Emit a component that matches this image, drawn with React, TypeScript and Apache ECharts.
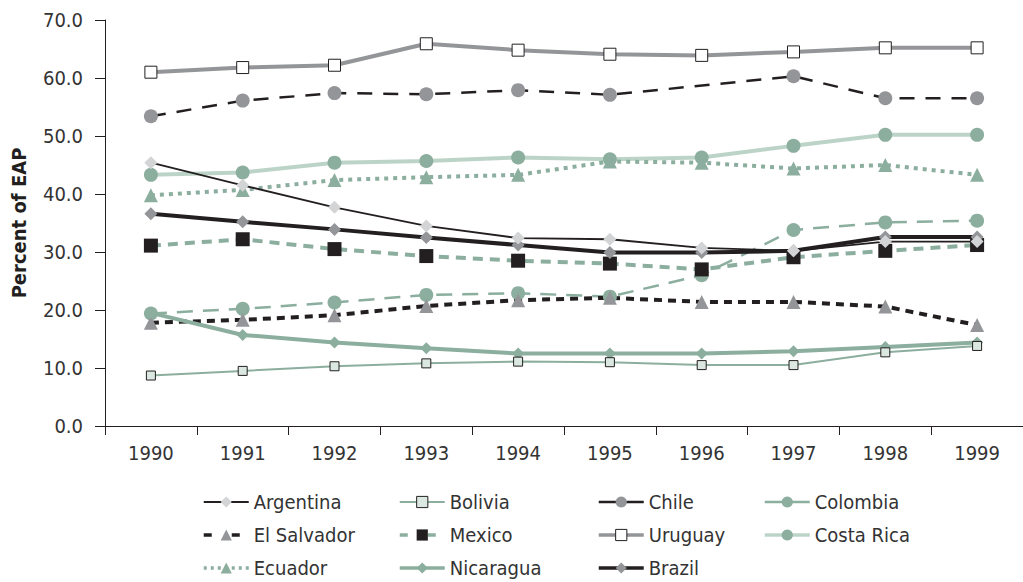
import React, { useEffect, useRef } from "react";
import * as echarts from "echarts";

const years = ["1990", "1991", "1992", "1993", "1994", "1995", "1996", "1997", "1998", "1999"];
const yTicks = { min: 0, max: 70, interval: 10 };

const argentina = [45.4, 41.5, 37.7, 34.5, 32.4, 32.2, 30.7, 30.2, 31.8, 31.8];
const bolivia = [8.7, 9.5, 10.3, 10.8, 11.1, 11.0, 10.5, 10.5, 12.7, 13.8];
const chile = [53.4, 56.1, 57.4, 57.2, 57.9, 57.1, null, 60.3, 56.5, 56.5];
const colombia = [19.4, 20.2, 21.3, 22.6, 22.9, 22.3, 26.0, 33.8, 35.1, 35.4];
const elSalvador = [17.8, 18.3, 19.1, 20.7, 21.7, 22.1, 21.4, 21.4, 20.6, 17.4];
const mexico = [31.1, 32.2, 30.5, 29.3, 28.5, 28.0, 27.0, 29.1, 30.2, 31.2];
const uruguay = [61.0, 61.8, 62.2, 65.9, 64.8, 64.1, 63.9, 64.5, 65.2, 65.2];
const costaRica = [43.3, 43.7, 45.4, 45.7, 46.3, 46.0, 46.3, 48.3, 50.2, 50.2];
const ecuador = [39.8, 40.7, 42.4, 42.9, 43.3, 45.6, 45.4, 44.4, 45.0, 43.3];
const nicaragua = [19.5, 15.7, 14.4, 13.4, 12.5, 12.5, 12.5, 12.9, 13.6, 14.4];
const brazil = [36.6, 35.2, 33.9, 32.5, 31.2, 29.9, 29.9, 30.2, 32.6, 32.6];

const legendCols = [
  ["Argentina", "El Salvador", "Ecuador"],
  ["Bolivia", "Mexico", "Nicaragua"],
  ["Chile", "Uruguay", "Brazil"],
  ["Colombia", "Costa Rica"],
];

const TEAL = "#8cae9f";
const LTEAL = "#bcd4c8";
const GRAY = "#939598";
const LGRAY = "#d3d4d5";
const BLACK = "#231f20";
const FONT = '"Liberation Sans Narrow", "DejaVu Sans Condensed", "Roboto", sans-serif';

export default function App() {
  const ref = useRef<HTMLDivElement>(null);
  useEffect(() => {
    if (!ref.current) return;
    document.body.style.margin = "0";
    const chart = echarts.init(ref.current, undefined, { renderer: "svg" });
    const styles: Record<string, any> = {};
    const mk = (
      name: string,
      data: (number | null)[],
      lineColor: string,
      width: number,
      type: any,
      legendType: any,
      symbol: string,
      size: number,
      fill: string,
      border?: string
    ) => {
      const itemStyle = { color: fill, borderColor: border || fill, borderWidth: border ? 1 : 0 };
      styles[name] = {
        lineStyle: { color: lineColor, width: Math.min(width, 3.5), type: legendType },
        itemStyle,
      };
      return {
        name,
        type: "line",
        data,
        connectNulls: true,
        symbol,
        symbolSize: size,
        showAllSymbol: true,
        lineStyle: { color: lineColor, width, type },
        itemStyle,
        emphasis: { disabled: true },
      };
    };
    const series = [
      mk("Uruguay", uruguay, GRAY, 4, "solid", "solid", "rect", 12, "#ffffff", BLACK),
      mk("Chile", chile, BLACK, 2.5, [15, 11], "solid", "circle", 14, GRAY),
      mk("Costa Rica", costaRica, LTEAL, 4, "solid", "solid", "circle", 14, TEAL),
      mk("Ecuador", ecuador, TEAL, 4, [4, 5], [3, 4], "triangle", 14, TEAL),
      mk("Colombia", colombia, TEAL, 2.5, [16, 10], "solid", "circle", 14, TEAL),
      mk("El Salvador", elSalvador, BLACK, 4, [8, 6], [8, 20], "triangle", 14, GRAY),
      mk("Mexico", mexico, TEAL, 4, [10, 7], [8, 20], "rect", 14, BLACK),
      mk("Nicaragua", nicaragua, TEAL, 4, "solid", "solid", "diamond", 12, TEAL),
      mk("Bolivia", bolivia, TEAL, 2, "solid", "solid", "rect", 9, "#dbe8e1", BLACK),
      mk("Brazil", brazil, BLACK, 4, "solid", "solid", "diamond", 13, GRAY),
      mk("Argentina", argentina, BLACK, 1.8, "solid", "solid", "diamond", 13, LGRAY),
    ];
    const lefts = [202, 398, 597, 763];
    const legend = legendCols.map((names, i) => ({
      orient: "vertical",
      left: lefts[i],
      top: 492,
      height: 120,
      padding: 0,
      itemWidth: 45,
      itemHeight: 14,
      itemGap: 13,
      selectedMode: false,
      textStyle: { fontFamily: FONT, fontSize: 20, color: "#333" },
      data: names.map((n) => ({ name: n, ...styles[n] })),
    }));
    chart.setOption({
      animation: false,
      grid: { left: 105, top: 20, height: 406, width: 928 },
      legend,
      xAxis: {
        type: "category",
        data: years,
        boundaryGap: true,
        axisLine: { lineStyle: { color: BLACK, width: 1 } },
        axisTick: { show: true, length: 9, lineStyle: { color: BLACK } },
        axisLabel: { fontFamily: FONT, fontSize: 20, color: "#333", margin: 17 },
      },
      yAxis: {
        type: "value",
        min: yTicks.min,
        max: yTicks.max,
        interval: yTicks.interval,
        name: "Percent of EAP",
        nameLocation: "middle",
        nameGap: 76,
        nameTextStyle: { fontFamily: FONT, fontSize: 20, fontWeight: "bold", color: "#231f20" },
        axisLine: { show: true, lineStyle: { color: BLACK, width: 1 } },
        axisTick: { show: true, length: 10, lineStyle: { color: BLACK } },
        splitLine: { show: false },
        axisLabel: {
          fontFamily: FONT,
          fontSize: 20,
          color: "#333",
          margin: 22,
          formatter: (v: number) => v.toFixed(1),
        },
      },
      series,
    });
    return () => chart.dispose();
  }, []);
  return <div ref={ref} style={{ width: 1023, height: 582 }} />;
}
